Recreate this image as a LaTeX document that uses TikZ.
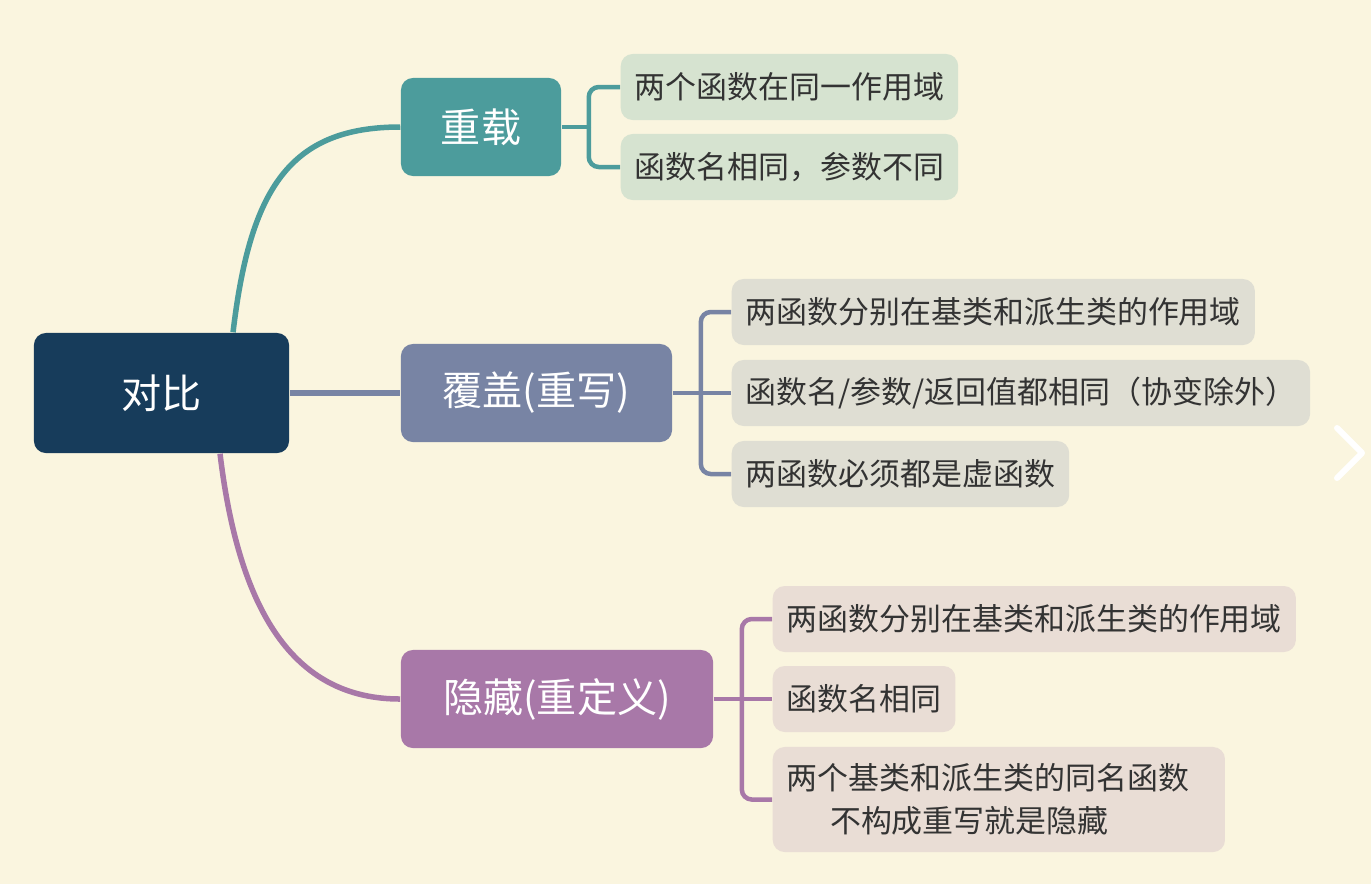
\documentclass[tikz,border=0pt]{standalone}
\usepackage{fontspec}
\newfontfamily\cjk{Noto Sans CJK SC}
\definecolor{bgcream}{HTML}{FAF5DF}
\definecolor{rootblue}{HTML}{173C5B}
\definecolor{zzteal}{HTML}{4C9C9C}
\definecolor{fgslate}{HTML}{7884A4}
\definecolor{ycpurple}{HTML}{A878A8}
\definecolor{zzleaf}{HTML}{D6E3D0}
\definecolor{fgleaf}{HTML}{DFDED3}
\definecolor{ycleaf}{HTML}{E9DDD5}
\begin{document}
\begin{tikzpicture}[x=0.01cm, y=-0.01cm,
    topic/.style={rounded corners=0.12cm, text=white, inner sep=0pt,
      font=\cjk\fontsize{11.4}{13}\selectfont, minimum height=0.98cm},
    leaf/.style={rounded corners=0.12cm, anchor=west, align=left,
      inner xsep=0.14cm, inner ysep=0pt, minimum height=0.66cm,
      font=\cjk\fontsize{8.8}{12.2}\selectfont},
    branch/.style={line width=0.055cm},
    twig/.style={line width=0.045cm, rounded corners=0.1cm}]
  % canvas
  \fill[bgcream] (0,0) rectangle (1371,884);
  \useasboundingbox (0,0) rectangle (1371,884);

  % root and the three topics
  \node[topic, fill=rootblue, minimum width=2.55cm, minimum height=1.2cm] (db) at (161.5,393) {对比};
  \node[topic, fill=zzteal, minimum width=1.6cm] (zz) at (481,127) {重载};
  \node[topic, fill=fgslate, minimum width=2.71cm] (fg) at (536.5,393) {覆盖(重写)};
  \node[topic, fill=ycpurple, minimum width=3.12cm] (yc) at (557,699) {隐藏(重定义)};

  \draw[branch, zzteal] ([xshift=0.715cm]db.north) .. controls +(17,-143) and +(-111,0) .. (zz.west);
  \draw[branch, fgslate] (db.east) -- (fg.west);
  \draw[branch, ycpurple] ([xshift=0.585cm]db.south) .. controls +(20,167) and +(-101,0) .. (yc.west);

  % leaves of 重载
  \node[leaf, fill=zzleaf, text=black!80] (zz1) at (620,87) {两个函数在同一作用域};
  \node[leaf, fill=zzleaf, text=black!80] (zz2) at (620,167) {函数名相同，参数不同};
  \coordinate (zzt) at ([xshift=0.27cm]zz.east);
  \draw[twig, zzteal] (zz.east) -- (zzt);
  \draw[twig, zzteal] (zzt) |- (zz1.west);
  \draw[twig, zzteal] (zzt) |- (zz2.west);

  % leaves of 覆盖
  \node[leaf, fill=fgleaf, text=black!80] (fg1) at (731,312) {两函数分别在基类和派生类的作用域};
  \node[leaf, fill=fgleaf, text=black!80] (fg2) at (731,393) {函数名/参数/返回值都相同（协变除外）};
  \node[leaf, fill=fgleaf, text=black!80] (fg3) at (731,474) {两函数必须都是虚函数};
  \coordinate (fgt) at ([xshift=0.28cm]fg.east);
  \draw[twig, fgslate] (fg.east) -- (fg2.west);
  \draw[twig, fgslate] (fgt) |- (fg1.west);
  \draw[twig, fgslate] (fgt) |- (fg3.west);

  % leaves of 隐藏
  \node[leaf, fill=ycleaf, text=black!80] (yc1) at (772,619) {两函数分别在基类和派生类的作用域};
  \node[leaf, fill=ycleaf, text=black!80] (yc2) at (772,699) {函数名相同};
  \node[leaf, fill=ycleaf, text=black!80, text width=4.24cm, minimum height=1.05cm] (yc3) at (772,799.5)
    {两个基类和派生类的同名函数\\\hspace*{1.4em}不构成重写就是隐藏};
  \coordinate (yct) at ([xshift=0.28cm]yc.east);
  \draw[twig, ycpurple] (yc.east) -- (yc2.west);
  \draw[twig, ycpurple] (yct) |- (yc1.west);
  \draw[twig, ycpurple] (yct) |- (yc3.west);

  % page arrow
  \draw[white, line width=0.06cm, line cap=round, line join=round] (1337,428) -- (1362,453) -- (1337,478);
\end{tikzpicture}
\end{document}
